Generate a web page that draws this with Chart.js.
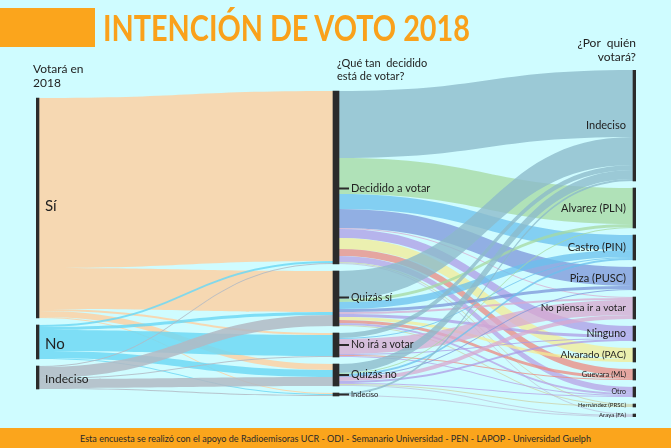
<!DOCTYPE html>
<html>
<head>
<meta charset="utf-8">
<script src="https://cdn.jsdelivr.net/npm/chart.js@4/dist/chart.umd.min.js"></script>
<style>
  body{margin:0;background:#cffcff;}
  #wrap{position:relative;width:671px;height:448px;background:#cffcff;overflow:hidden;font-family:Lato,"Open Sans",sans-serif;color:#222;}
  #chart{position:absolute;left:0;top:0;}
  #tag{position:absolute;left:0;top:8px;width:95px;height:39px;background:#fba51c;}
  #title{position:absolute;left:103px;top:5px;font-size:37px;line-height:44px;font-weight:700;color:#f9a11b;white-space:nowrap;transform-origin:0 0;}
  .hd{position:absolute;font-size:12px;line-height:14px;white-space:nowrap;color:#222;}
  #foot{position:absolute;left:0;top:428px;width:671px;height:20px;background:#fba51c;}
  #foottxt{position:absolute;left:80px;top:432px;font-size:10px;line-height:12px;white-space:nowrap;color:#2a2a2a;transform-origin:0 0;}
</style>
</head>
<body>
<div id="wrap">
  <canvas id="chart" width="671" height="448"></canvas>
  <div id="tag"></div>
  <div id="title">INTENCIÓN DE VOTO 2018</div>
  <div class="hd" style="left:33px;top:62px;">Votará en<br>2018</div>
  <div class="hd" style="left:337px;top:56px;font-size:11px;line-height:13px;">¿Qué tan&nbsp; decidido<br>está de votar?</div>
  <div class="hd" style="right:35px;top:36px;text-align:right;">¿Por&nbsp; quién<br>votará?</div>
  <div id="foot"></div>
  <div id="foottxt">Esta encuesta se realizó con el apoyo de Radioemisoras UCR - ODI - Semanario Universidad - PEN - LAPOP - Universidad Guelph</div>
</div>
<script>
// columns of the diagram
const leftNodes = ['Sí', 'No', 'Indeciso'];
const midNodes = ['Decidido a votar', 'Quizás sí', 'No irá a votar', 'Quizás no', 'Indeciso'];
const rightNodes = ['Indeciso', 'Alvarez (PLN)', 'Castro (PIN)', 'Piza (PUSC)', 'No piensa ir a votar',
  'Ninguno', 'Alvarado (PAC)', 'Guevara (ML)', 'Otro', 'Hernández (PRSC)', 'Araya (FA)'];

// votará en 2018 -> qué tan decidido (same order as midNodes)
const siFlows = [170, 41, 2, 6, 1];
const noFlows = [2, 3, 21, 7, 1];
const indecisoFlows = [1, 11, 1, 9, 1];

// qué tan decidido -> por quién votará (same order as rightNodes)
const decididoFlows = [67, 36, 15, 19, 1, 9, 11, 7, 6, 1, 1];
const quizasSiFlows = [28, 3, 7, 3, 2, 3, 3, 3, 2, 1, 0];
const noIraFlows = [5, 0, 1, 0, 15, 1, 0, 1, 1, 0, 0];
const quizasNoFlows = [9, 1, 2, 1, 4, 2, 0, 0, 1, 1, 1];
const indecisoMidFlows = [2, 0, 0, 0, 0, 0, 0, 0, 0, 0, 1];

const leftColors = ['rgba(249,212,170,0.9)', 'rgba(110,216,245,0.85)', 'rgba(178,186,196,0.85)'];
const rightColors = ['rgba(140,186,202,0.78)', 'rgba(165,218,160,0.75)', 'rgba(105,192,238,0.75)',
  'rgba(124,150,218,0.75)', 'rgba(216,170,208,0.75)', 'rgba(172,152,228,0.72)', 'rgba(244,236,150,0.75)',
  'rgba(236,138,128,0.75)', 'rgba(182,158,228,0.72)', 'rgba(205,205,160,0.7)', 'rgba(190,190,215,0.7)'];

const columns = [leftNodes, midNodes, rightNodes];
const stages = [
  [siFlows, noFlows, indecisoFlows],
  [decididoFlows, quizasSiFlows, noIraFlows, quizasNoFlows, indecisoMidFlows]
];
const GAP = 7;

// node sizes = max(in, out)
const nodeVal = columns.map((col, c) => col.map((n, i) => {
  let inV = 0, outV = 0;
  if (c > 0) stages[c - 1].forEach(row => inV += row[i]);
  if (c < stages.length) stages[c][i].forEach(v => outV += v);
  return Math.max(inV, outV);
}));
const spans = nodeVal.map(v => v.reduce((a, b) => a + b, 0) + GAP * (v.length - 1));
const yMax = Math.max(...spans);

// stack nodes, centred in each column
const nodeTop = nodeVal.map((vals, c) => {
  let y = (yMax - spans[c]) / 2;
  return vals.map(v => { const t = y; y += v + GAP; return t; });
});

const links = [];
stages.forEach((rows, s) => {
  const outOff = nodeTop[s].slice();
  const inOff = nodeTop[s + 1].slice();
  // source side ordered by target, target side ordered by source
  const srcPos = rows.map(() => []);
  rows.forEach((row, i) => row.forEach((v, j) => { srcPos[i][j] = outOff[i]; outOff[i] += v; }));
  rows.forEach((row, i) => row.forEach((v, j) => {
    if (v > 0) links.push({ s, v, sy: srcPos[i][j], ty: inOff[j],
      color: s === 0 ? leftColors[i] : rightColors[j] });
    inOff[j] += v;
  }));
});

const nodeBars = [];
nodeVal.forEach((vals, c) => vals.forEach((v, i) => nodeBars.push({ x: c, y: [nodeTop[c][i], nodeTop[c][i] + v] })));

const sankeyFlows = {
  id: 'sankeyFlows',
  beforeDatasetsDraw(chart) {
    const { ctx, scales: { x, y } } = chart;
    ctx.save();
    links.forEach(l => {
      const x0 = x.getPixelForValue(l.s) + 3, x1 = x.getPixelForValue(l.s + 1) - 3;
      const xm = (x0 + x1) / 2;
      const a0 = y.getPixelForValue(l.sy), b0 = y.getPixelForValue(l.sy + l.v);
      const a1 = y.getPixelForValue(l.ty), b1 = y.getPixelForValue(l.ty + l.v);
      ctx.beginPath();
      ctx.moveTo(x0, a0);
      ctx.bezierCurveTo(xm, a0, xm, a1, x1, a1);
      ctx.lineTo(x1, b1);
      ctx.bezierCurveTo(xm, b1, xm, b0, x0, b0);
      ctx.closePath();
      ctx.fillStyle = l.color;
      ctx.fill();
    });
    ctx.restore();
  },
  afterDatasetsDraw(chart, args, opts) {
    const { ctx, scales: { x, y } } = chart;
    const mid = i => y.getPixelForValue(nodeTop[0][i] + nodeVal[0][i] / 2);
    ctx.save();
    ctx.textBaseline = 'middle';
    ctx.fillStyle = '#222';
    // left column
    leftNodes.forEach((n, i) => {
      ctx.font = opts.leftSizes[i] + 'px Lato, sans-serif';
      ctx.fillText(n, x.getPixelForValue(0) + 9, mid(i) + opts.leftNudge[i]);
    });
    // middle column
    midNodes.forEach((n, i) => {
      const cy = y.getPixelForValue(nodeTop[1][i] + nodeVal[1][i] / 2) + opts.midNudge[i];
      const xc = x.getPixelForValue(1);
      ctx.fillStyle = '#2b2b2b';
      ctx.fillRect(xc + 3, cy - 1, 10, 2);
      ctx.fillStyle = '#222';
      ctx.font = opts.midSizes[i] + 'px Lato, sans-serif';
      ctx.fillText(n, xc + 15, cy);
    });
    // right column
    ctx.textAlign = 'right';
    rightNodes.forEach((n, i) => {
      const cy = y.getPixelForValue(nodeTop[2][i] + nodeVal[2][i] / 2);
      ctx.font = opts.rightSizes[i] + 'px Lato, sans-serif';
      ctx.fillText(n, x.getPixelForValue(2) - 10, cy);
    });
    ctx.restore();
  }
};

new Chart(document.getElementById('chart'), {
  type: 'bar',
  data: {
    datasets: [{
      data: nodeBars,
      backgroundColor: '#2b2b2b',
      barThickness: 6,
      borderWidth: 0
    }]
  },
  options: {
    responsive: false,
    animation: false,
    layout: { padding: { left: 36, right: 35, top: 70, bottom: 31 } },
    scales: {
      x: { type: 'linear', min: 0, max: 2, offset: false, display: false },
      y: { min: 0, max: yMax, reverse: true, display: false }
    },
    plugins: {
      legend: { display: false },
      tooltip: { enabled: false },
      sankeyFlows: {
        leftSizes: [15, 15, 12],
        leftNudge: [-2, 2, 2],
        midSizes: [11, 10.5, 10.5, 10.5, 7.5],
        midNudge: [11, -1, 0, 0, 0],
        rightSizes: [11, 11, 11, 11, 10, 10.5, 10, 7.5, 7, 6, 6]
      }
    }
  },
  plugins: [sankeyFlows]
});

function fitWidth(id, w) {
  const el = document.getElementById(id);
  el.style.transform = 'scaleX(' + (w / el.getBoundingClientRect().width) + ')';
}
fitWidth('title', 367);
fitWidth('foottxt', 511);
</script>
</body>
</html>
